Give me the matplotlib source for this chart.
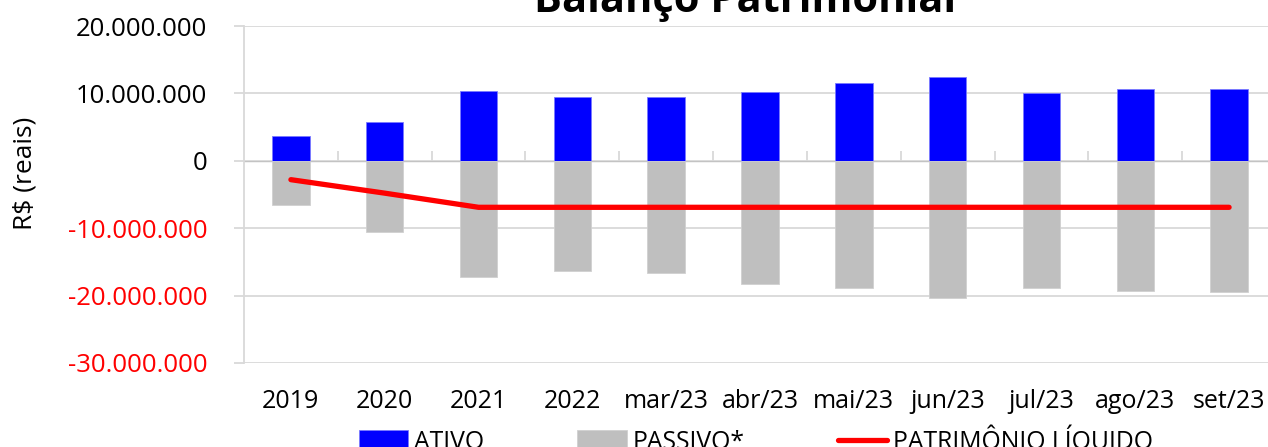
import matplotlib
matplotlib.use("Agg")
import matplotlib.pyplot as plt
from matplotlib.ticker import FuncFormatter, FixedLocator, NullFormatter

categorias = ["2019", "2020", "2021", "2022", "mar/23", "abr/23", "mai/23",
              "jun/23", "jul/23", "ago/23", "set/23"]
ativo = [3.7e6, 5.7e6, 10.4e6, 9.5e6, 9.4e6, 10.2e6, 11.5e6, 12.45e6, 10.1e6, 10.6e6, 10.6e6]
passivo = [-6.5e6, -10.5e6, -17.3e6, -16.4e6, -16.7e6, -18.3e6, -18.8e6, -20.3e6, -18.8e6, -19.3e6, -19.4e6]
patrimonio = [-2.8e6, -4.8e6, -6.9e6, -6.9e6, -6.9e6, -6.9e6, -6.9e6, -6.9e6, -6.9e6, -6.9e6, -6.9e6]
yticks = [-30e6, -20e6, -10e6, 0, 10e6, 20e6]

FONT = ["Open Sans", "DejaVu Sans"]
plt.rcParams["font.family"] = FONT

W, H = 1268, 447
fig = plt.figure(figsize=(W / 100, H / 100), dpi=100)
ax = fig.add_axes([244 / W, 84 / H, 1032 / W, 337 / H])

grid_c = "#d9d9d9"
x = list(range(len(categorias)))
b1 = ax.bar(x, ativo, width=0.4, color="#0000ff", edgecolor="#7a7aff", linewidth=0.6,
            label="ATIVO", zorder=2)
b2 = ax.bar(x, passivo, width=0.4, color="#bfbfbf", edgecolor="#d0d0d0", linewidth=0.6,
            label="PASSIVO*", zorder=2)
l1, = ax.plot(x, patrimonio, color="#ff0000", linewidth=3.8, solid_capstyle="round",
              label="PATRIMÔNIO LÍQUIDO", zorder=3)

ax.set_xlim(-0.5, len(categorias) - 0.5)
ax.set_ylim(-30e6, 20e6)
ax.set_yticks(yticks)
ax.yaxis.set_major_formatter(FuncFormatter(lambda v, p: f"{int(round(v)):,}".replace(",", ".")))
ax.grid(axis="y", color=grid_c, linewidth=1.3, zorder=0)
ax.set_axisbelow(True)
for s in ["top", "right", "bottom"]:
    ax.spines[s].set_visible(False)
ax.spines["left"].set_color(grid_c)
ax.spines["left"].set_linewidth(1.3)
ax.tick_params(axis="y", length=7.5, color=grid_c, width=1.3, pad=19, labelsize=18.5)
for lbl, v in zip(ax.get_yticklabels(), yticks):
    lbl.set_color("red" if v < 0 else "black")
ax.set_xticks(x)
ax.set_xticklabels(categorias)
ax.tick_params(axis="x", length=0, pad=19, labelsize=18)

# category boundary ticks on the zero line
sec = ax.secondary_xaxis(0.6)
sec.xaxis.set_major_locator(FixedLocator([i + 0.5 for i in range(len(categorias) - 1)]))
sec.xaxis.set_major_formatter(NullFormatter())
sec.tick_params(axis="x", length=7, color=grid_c, width=1.3, direction="out")
sec.spines["bottom"].set_color(grid_c)
sec.spines["bottom"].set_linewidth(1.3)

ax.set_ylabel("R$ (reais)", fontsize=19)
ax.yaxis.set_label_coords(-0.2, 0.564)

fig.text(745 / W, 1 - 12 / H, "Balanço Patrimonial", ha="center", va="baseline",
         fontsize=30, fontweight="bold")

fig.legend(handles=[b1, b2, l1], loc="center", bbox_to_anchor=(756 / W, 6 / H), ncol=3,
           frameon=False, fontsize=17.8, handlelength=2.0, handleheight=0.9,
           handletextpad=0.25, columnspacing=3.75)

fig.savefig("out.png", dpi=100)
